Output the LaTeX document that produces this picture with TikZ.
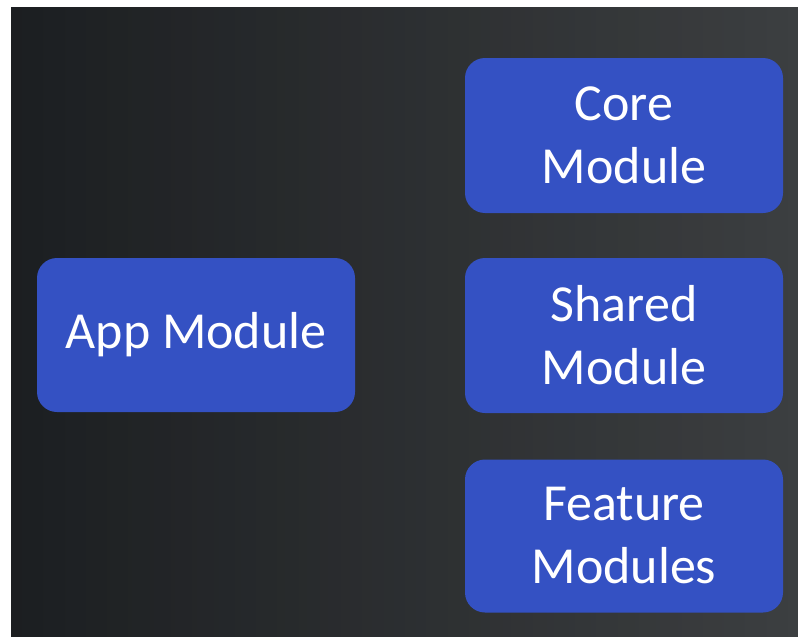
\documentclass[tikz,border=0pt]{standalone}
\usepackage{fontspec}
\setmainfont{Carlito}
\begin{document}
\begin{tikzpicture}[x=1pt,y=-1pt,
  modbox/.style={draw=none, fill=modblue, rounded corners=20pt, text=white,
    align=center, font=\fontsize{52}{63}\selectfont, inner sep=0pt},
]
\definecolor{modblue}{HTML}{3451C3}
\definecolor{bgleft}{HTML}{202326}
\definecolor{bgright}{HTML}{45484A}
% page with a thin white margin on the left and top
\useasboundingbox (0,0) rectangle (798,637);
\fill[white] (0,0) rectangle (798,637);
\shade[left color=bgleft, right color=bgright] (11,7) rectangle (798,637);
\shade[top color=bgright!0!black, bottom color=black, opacity=0.12] (11,7) rectangle (798,637);
% module boxes
\node[modbox, minimum width=318pt, minimum height=154pt] (app) at (196,335) {App Module};
\node[modbox, minimum width=318pt, minimum height=155pt] (core) at (624,135.5) {Core\\Module};
\node[modbox, minimum width=318pt, minimum height=155pt] (shared) at (624,335.5) {Shared\\Module};
\node[modbox, minimum width=318pt, minimum height=153pt] (feature) at (624,536) {Feature\\Modules};
\end{tikzpicture}
\end{document}
